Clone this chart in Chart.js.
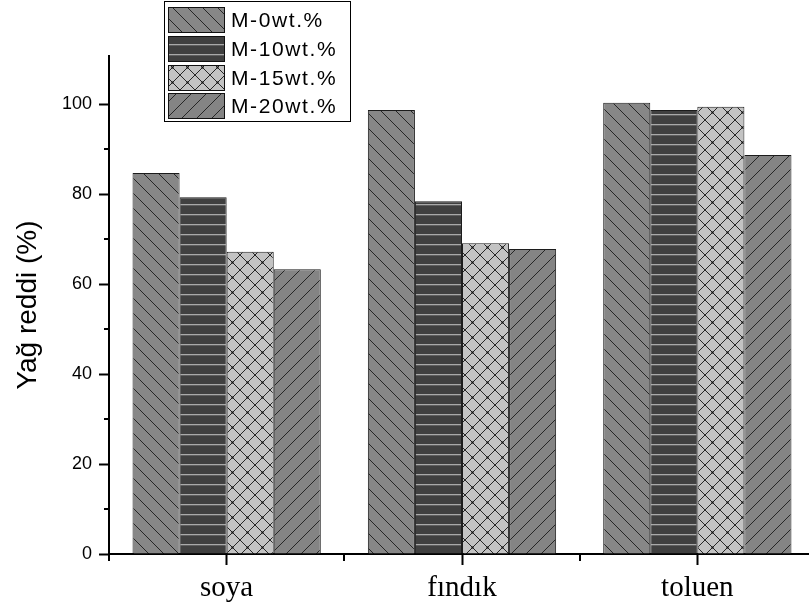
<!DOCTYPE html>
<html>
<head>
<meta charset="utf-8">
<script src="https://cdn.jsdelivr.net/npm/chart.js@4.4.1/dist/chart.umd.min.js"></script>
<style>
  html, body { margin: 0; padding: 0; background: #ffffff; overflow: hidden; }
  #wrap { width: 809px; height: 605px; position: relative; overflow: hidden; }
  #c { display: block; }
</style>
</head>
<body>
<div id="wrap"><canvas id="c" width="815" height="605"></canvas></div>
<script>
// Oil rejection (%) per membrane loading, for three oils/solvents
const categories = ['soya', 'fındık', 'toluen'];
const seriesNames = ['M-0wt.%', 'M-10wt.%', 'M-15wt.%', 'M-20wt.%'];
const m0Values  = [84.7, 98.7, 100.3];
const m10Values = [79.3, 78.4, 98.7];
const m15Values = [67.2, 69.1, 99.4];
const m20Values = [63.3, 67.8, 88.7];
const yMajorTicks = [0, 20, 40, 60, 80, 100];
const yMinorTicks = [10, 30, 50, 70, 90];
const yAxisTitle = 'Yağ reddi (%)';

// ---- hatch fills ----
function tile(w, h, bg, draw) {
  const c = document.createElement('canvas');
  c.width = w; c.height = h;
  const g = c.getContext('2d');
  g.fillStyle = bg;
  g.fillRect(0, 0, w, h);
  draw(g, w, h);
  return g.createPattern(c, 'repeat');
}
function diag(g, s, dir) {
  g.strokeStyle = '#262626';
  g.lineWidth = 1;
  g.beginPath();
  for (const k of [-s, 0, s]) {
    if (dir > 0) { g.moveTo(k, 0); g.lineTo(k + s, s); }
    else { g.moveTo(k, s); g.lineTo(k + s, 0); }
  }
  g.stroke();
}
const fillBackslash = tile(15, 15, '#878787', (g, w) => diag(g, w, 1));
const fillHLines = tile(10, 10, '#404040', (g, w) => {
  g.fillStyle = '#a9a9a9';
  g.fillRect(0, 4, w, 1.3);
});
const fillCross = tile(15, 15, '#c3c3c3', (g, w) => {
  diag(g, w, 1); diag(g, w, -1);
  g.fillStyle = '#111';
  g.fillRect(6.5, 6.5, 2, 2);
});
const fillSlash = tile(15, 15, '#848484', (g, w) => diag(g, w, -1));
const fills = [fillBackslash, fillHLines, fillCross, fillSlash];
const seriesValues = [m0Values, m10Values, m15Values, m20Values];

// ---- minor ticks on both axes ----
const minorTicks = {
  id: 'minorTicks',
  afterDraw(chart) {
    const { ctx, scales: { x, y } } = chart;
    ctx.save();
    ctx.strokeStyle = '#000';
    ctx.lineWidth = 2;
    ctx.beginPath();
    const left = chart.chartArea.left;
    for (const v of yMinorTicks) {
      const py = Math.round(y.getPixelForValue(v));
      ctx.moveTo(left - 5, py);
      ctx.lineTo(left, py);
    }
    const bottom = chart.chartArea.bottom;
    const half = (x.getPixelForValue(1) - x.getPixelForValue(0)) / 2;
    for (let i = 0; i < categories.length; i++) {
      const px = Math.round(x.getPixelForValue(i) - half);
      ctx.moveTo(px, bottom);
      ctx.lineTo(px, bottom + 7);
    }
    ctx.stroke();
    ctx.restore();
  }
};

// ---- boxed legend with hatch swatches ----
const boxedLegend = {
  id: 'boxedLegend',
  afterDraw(chart) {
    const ctx = chart.ctx;
    ctx.save();
    ctx.fillStyle = '#fff';
    ctx.fillRect(165, 2, 185, 119);
    ctx.strokeStyle = '#000';
    ctx.lineWidth = 1;
    ctx.strokeRect(164.5, 1.5, 186, 120);
    const tops = [7, 36, 65, 93];
    ctx.font = '21px "Liberation Sans", Arial, sans-serif';
    ctx.textBaseline = 'middle';
    if ('letterSpacing' in ctx) ctx.letterSpacing = '1.6px';
    seriesNames.forEach((name, i) => {
      ctx.fillStyle = fills[i];
      ctx.fillRect(168, tops[i], 57, 26);
      ctx.strokeStyle = '#111';
      ctx.strokeRect(168.5, tops[i] + 0.5, 56, 25);
      ctx.fillStyle = '#000';
      ctx.fillText(name, 231, tops[i] + 14);
    });
    ctx.restore();
  }
};

new Chart(document.getElementById('c'), {
  type: 'bar',
  data: {
    labels: categories,
    datasets: seriesNames.map((name, i) => ({
      label: name,
      data: seriesValues[i],
      backgroundColor: fills[i],
      borderColor: '#1c1c1c',
      borderWidth: 1,
      categoryPercentage: 0.8,
      barPercentage: 1.0
    }))
  },
  options: {
    responsive: false,
    animation: false,
    layout: { padding: { top: 56, right: 0, bottom: 0, left: 0 } },
    plugins: { legend: { display: false }, tooltip: { enabled: false } },
    scales: {
      x: {
        grid: { display: true, drawOnChartArea: false, offset: false, drawTicks: true, tickLength: 11, tickWidth: 2, tickColor: '#000' },
        border: { display: true, color: '#000', width: 2 },
        ticks: { color: '#000', padding: 6, font: { family: '"Liberation Serif", "Times New Roman", serif', size: 29 } },
        afterFit(s) { s.height = 51; }
      },
      y: {
        min: 0,
        max: 110.7,
        afterBuildTicks(s) { s.ticks = yMajorTicks.map(v => ({ value: v })); },
        grid: { display: true, drawOnChartArea: false, drawTicks: true, tickLength: 10, tickWidth: 2, tickColor: '#000' },
        border: { display: true, color: '#000', width: 2 },
        ticks: { color: '#000', padding: 7, font: { family: '"Liberation Sans", Arial, sans-serif', size: 18 } },
        title: {
          display: true,
          text: yAxisTitle,
          color: '#000',
          padding: { top: 11, bottom: 0 },
          font: { family: '"Liberation Sans", Arial, sans-serif', size: 28 }
        },
        afterFit(s) { s.width = 109; }
      }
    }
  },
  plugins: [minorTicks, boxedLegend]
});
</script>
</body>
</html>
